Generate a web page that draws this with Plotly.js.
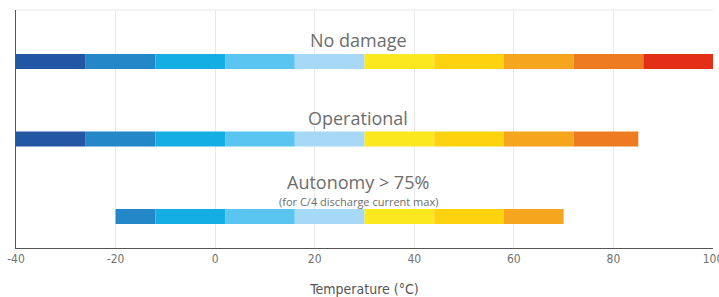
<!DOCTYPE html>
<html><head><meta charset="utf-8">
<script src="https://cdn.plot.ly/plotly-3.0.1.min.js"></script>
<style>html,body{margin:0;padding:0;background:#fff}#chart{width:719px;height:297px}</style>
</head><body><div id="chart"></div>
<script>
// Temperature band edges (°C) and their colours
const bandEdges = [-40, -26, -12, 2, 16, 30, 44, 58, 72, 86, 100];
const bandColors = ['#2257A4', '#2387C8', '#15AEE3', '#5BC5F2', '#A6D9F7',
                    '#FCE81E', '#FDD20E', '#F6A51E', '#EE7B22', '#E42F17'];
// Rows: category position, range min, range max
const rowNames = ['No damage', 'Operational', 'Autonomy > 75%'];
const rowNote = '(for C/4 discharge current max)';
const rowPos = [3, 2, 1];
const rowMin = [-40, -40, -20];
const rowMax = [100, 85, 70];
const xTicks = [-40, -20, 0, 20, 40, 60, 80, 100];

const traces = [];
for (let b = 0; b < bandColors.length; b++) {
  const ys = [], bases = [], lens = [];
  for (let r = 0; r < rowNames.length; r++) {
    const s = Math.max(bandEdges[b], rowMin[r]);
    const e = Math.min(bandEdges[b + 1], rowMax[r]);
    if (e > s) { ys.push(rowPos[r]); bases.push(s); lens.push(e - s); }
  }
  traces.push({
    type: 'bar', orientation: 'h', y: ys, x: lens, base: bases,
    width: 0.194, marker: {color: bandColors[b], line: {width: 0}},
    hoverinfo: 'skip', showlegend: false
  });
}

const annFont = {family: 'Open Sans, sans-serif', size: 18, color: '#6d6d6d'};
const layout = {
  width: 719, height: 297,
  margin: {l: 16, r: 6, t: 10, b: 49},
  barmode: 'overlay',
  paper_bgcolor: '#fff', plot_bgcolor: '#fff',
  showlegend: false,
  xaxis: {
    range: [-40, 100], tickvals: xTicks, ticktext: xTicks.map(String),
    showgrid: true, gridcolor: '#e8e8e8', gridwidth: 1,
    zeroline: false, showline: true, linecolor: '#555', linewidth: 1,
    ticks: '', ticklen: 0, ticklabeloverflow: 'allow',
    tickfont: {family: 'Liberation Sans Narrow, DejaVu Sans Condensed, sans-serif', size: 12, color: '#707070'},
    title: {text: 'Temperature (°C)', standoff: 20,
            font: {family: 'Liberation Sans Narrow, DejaVu Sans Condensed, sans-serif', size: 14, color: '#555'}},
    fixedrange: true
  },
  yaxis: {
    range: [0.594, 3.665], showgrid: false, zeroline: false,
    showticklabels: false, showline: true, linecolor: '#555', linewidth: 1,
    ticks: '', fixedrange: true
  },
  shapes: [
    {type: 'line', xref: 'paper', yref: 'paper', x0: 0, x1: 1, y0: 1, y1: 1,
     line: {color: '#e8e8e8', width: 1}}
  ],
  annotations: [
    {x: 28.7, y: 3.277, xref: 'x', yref: 'y', text: rowNames[0], showarrow: false, font: annFont, borderpad: 0},
    {x: 28.7, y: 2.27, xref: 'x', yref: 'y', text: rowNames[1], showarrow: false, font: annFont, borderpad: 0},
    {x: 28.7, y: 1.45, xref: 'x', yref: 'y', text: rowNames[2], showarrow: false, font: annFont, borderpad: 0},
    {x: 28.7, y: 1.2, xref: 'x', yref: 'y', text: rowNote, showarrow: false, borderpad: 0,
     font: {family: 'Open Sans, sans-serif', size: 11, color: '#6d6d6d'}}
  ]
};
Plotly.newPlot('chart', traces, layout, {staticPlot: true, displayModeBar: false});
</script></body></html>
